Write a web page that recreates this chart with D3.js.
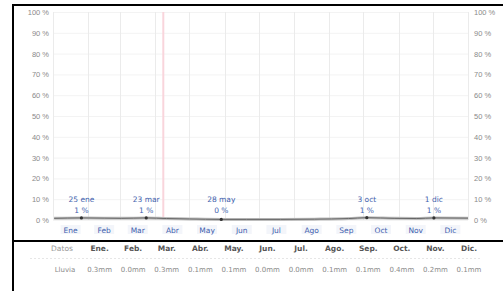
<!DOCTYPE html>
<html>
<head>
<meta charset="utf-8">
<script src="https://cdn.jsdelivr.net/npm/d3@7"></script>
<style>
  body { margin: 0; background: #fff; }
  svg { display: block; font-family: "DejaVu Sans", sans-serif; }
</style>
</head>
<body>
<div id="chart"></div>
<script>
// data
var months = ["Ene", "Feb", "Mar", "Abr", "May", "Jun", "Jul", "Ago", "Sep", "Oct", "Nov", "Dic"];
var monthStart = [0, 31, 59, 90, 120, 151, 181, 212, 243, 273, 304, 334, 365];
var pctTicks = [0, 10, 20, 30, 40, 50, 60, 70, 80, 90, 100];
// rain probability, day of year -> %
var rainDays = [1, 25, 45, 60, 82, 100, 120, 148, 170, 200, 230, 260, 276, 300, 320, 335, 365];
var rainPct  = [0.8, 1.0, 0.9, 0.8, 1.0, 0.7, 0.5, 0.3, 0.3, 0.3, 0.4, 0.7, 1.1, 0.8, 0.7, 1.0, 0.9];
var notes = [
  {day: 25, date: "25 ene", pct: "1 %"},
  {day: 82, date: "23 mar", pct: "1 %"},
  {day: 148, date: "28 may", pct: "0 %"},
  {day: 276, date: "3 oct", pct: "1 %"},
  {day: 335, date: "1 dic", pct: "1 %"}
];
var todayDay = 97;
var tableHead = ["Datos", "Ene.", "Feb.", "Mar.", "Abr.", "May.", "Jun.", "Jul.", "Ago.", "Sep.", "Oct.", "Nov.", "Dic."];
var tableRow = ["Lluvia", "0.3mm", "0.0mm", "0.3mm", "0.1mm", "0.1mm", "0.0mm", "0.0mm", "0.1mm", "0.1mm", "0.4mm", "0.2mm", "0.1mm"];

var width = 503, height = 291;

var svg = d3.select("#chart").append("svg")
  .attr("width", width)
  .attr("height", height);

var x = d3.scaleLinear().domain([0, 365]).range([53, 468]);
var y = d3.scaleLinear().domain([0, 100]).range([220, 12]);

// grid
svg.append("g").selectAll("line.h")
  .data(pctTicks)
  .enter().append("line")
  .attr("x1", x(0)).attr("x2", x(365))
  .attr("y1", function(d) { return y(d) + 0.5; })
  .attr("y2", function(d) { return y(d) + 0.5; })
  .attr("stroke", "#f3f3f3");

svg.append("g").selectAll("line.v")
  .data(monthStart)
  .enter().append("line")
  .attr("x1", function(d) { return Math.round(x(d)) + 0.5; })
  .attr("x2", function(d) { return Math.round(x(d)) + 0.5; })
  .attr("y1", y(100)).attr("y2", y(0))
  .attr("stroke", "#ebebeb");

// today marker
svg.append("line")
  .attr("x1", x(todayDay)).attr("x2", x(todayDay))
  .attr("y1", y(100)).attr("y2", y(0))
  .attr("stroke", "#f9d5dc").attr("stroke-width", 2);

// axes
var fmt = function(d) { return d + " %"; };
svg.append("g")
  .attr("transform", "translate(49,0)")
  .call(d3.axisLeft(y).tickValues(pctTicks).tickSize(0).tickPadding(0).tickFormat(fmt));
svg.append("g")
  .attr("transform", "translate(474,0)")
  .call(d3.axisRight(y).tickValues(pctTicks).tickSize(0).tickPadding(0).tickFormat(fmt));
svg.selectAll(".domain").remove();
svg.selectAll(".tick text")
  .attr("fill", "#8a8a8a")
  .style("font-size", "7.5px");

// month labels
var ml = svg.append("g").selectAll("g")
  .data(months)
  .enter().append("g")
  .attr("transform", function(d, i) {
    return "translate(" + x((monthStart[i] + monthStart[i + 1]) / 2) + ",231)";
  });
ml.append("rect")
  .attr("x", -10).attr("y", -6).attr("width", 20).attr("height", 9)
  .attr("fill", "#f3f5fa");
ml.append("text")
  .attr("text-anchor", "middle")
  .attr("y", 1.5)
  .attr("fill", "#3f5fae")
  .style("font-size", "7.5px")
  .text(function(d) { return d; });

// rain line
var line = d3.line()
  .x(function(d, i) { return x(rainDays[i]); })
  .y(function(d) { return y(d); })
  .curve(d3.curveMonotoneX);

svg.append("path")
  .datum(rainPct)
  .attr("d", line)
  .attr("fill", "none")
  .attr("stroke", "#bdbdbd")
  .attr("stroke-width", 3);
svg.append("path")
  .datum(rainPct)
  .attr("d", line)
  .attr("fill", "none")
  .attr("stroke", "#666")
  .attr("stroke-width", 1);

// annotations
var ng = svg.append("g").selectAll("g")
  .data(notes)
  .enter().append("g")
  .attr("transform", function(d) { return "translate(" + x(d.day) + ",0)"; });
ng.append("circle")
  .attr("cy", function(d) { return y(rainPct[rainDays.indexOf(d.day)]); })
  .attr("r", 1.6)
  .attr("fill", "#333");
ng.append("text")
  .attr("text-anchor", "middle")
  .attr("y", 202)
  .attr("fill", "#3f5fae")
  .style("font-size", "7.5px")
  .text(function(d) { return d.date; });
ng.append("text")
  .attr("text-anchor", "middle")
  .attr("y", 213)
  .attr("fill", "#3f5fae")
  .style("font-size", "7.5px")
  .text(function(d) { return d.pct; });

// table
var colX = d3.scaleLinear().domain([0, 12]).range([62, 465]);
svg.append("line")
  .attr("x1", 30).attr("x2", 480)
  .attr("y1", 258.5).attr("y2", 258.5)
  .attr("stroke", "#e6e6e6").attr("stroke-dasharray", "2,2");
svg.append("g").selectAll("text")
  .data(tableHead)
  .enter().append("text")
  .attr("x", function(d, i) { return i === 0 ? 62 : colX(i) + 4; })
  .attr("y", 251)
  .attr("text-anchor", "middle")
  .attr("fill", function(d, i) { return i === 0 ? "#999" : "#555"; })
  .style("font-size", "7.5px")
  .style("font-weight", function(d, i) { return i === 0 ? "normal" : "bold"; })
  .text(function(d) { return d; });
svg.append("g").selectAll("text")
  .data(tableRow)
  .enter().append("text")
  .attr("x", function(d, i) { return i === 0 ? 65 : colX(i) + 4; })
  .attr("y", 272)
  .attr("text-anchor", "middle")
  .attr("fill", "#8a8a8a")
  .style("font-size", "7px")
  .text(function(d) { return d; });

// frame
svg.append("line").attr("x1", 12).attr("x2", width).attr("y1", 5).attr("y2", 5)
  .attr("stroke", "#000").attr("stroke-width", 2);
svg.append("line").attr("x1", 13).attr("x2", 13).attr("y1", 4).attr("y2", height)
  .attr("stroke", "#000").attr("stroke-width", 2);
svg.append("line").attr("x1", 12).attr("x2", width).attr("y1", 241).attr("y2", 241)
  .attr("stroke", "#000").attr("stroke-width", 2);
</script>
</body>
</html>
